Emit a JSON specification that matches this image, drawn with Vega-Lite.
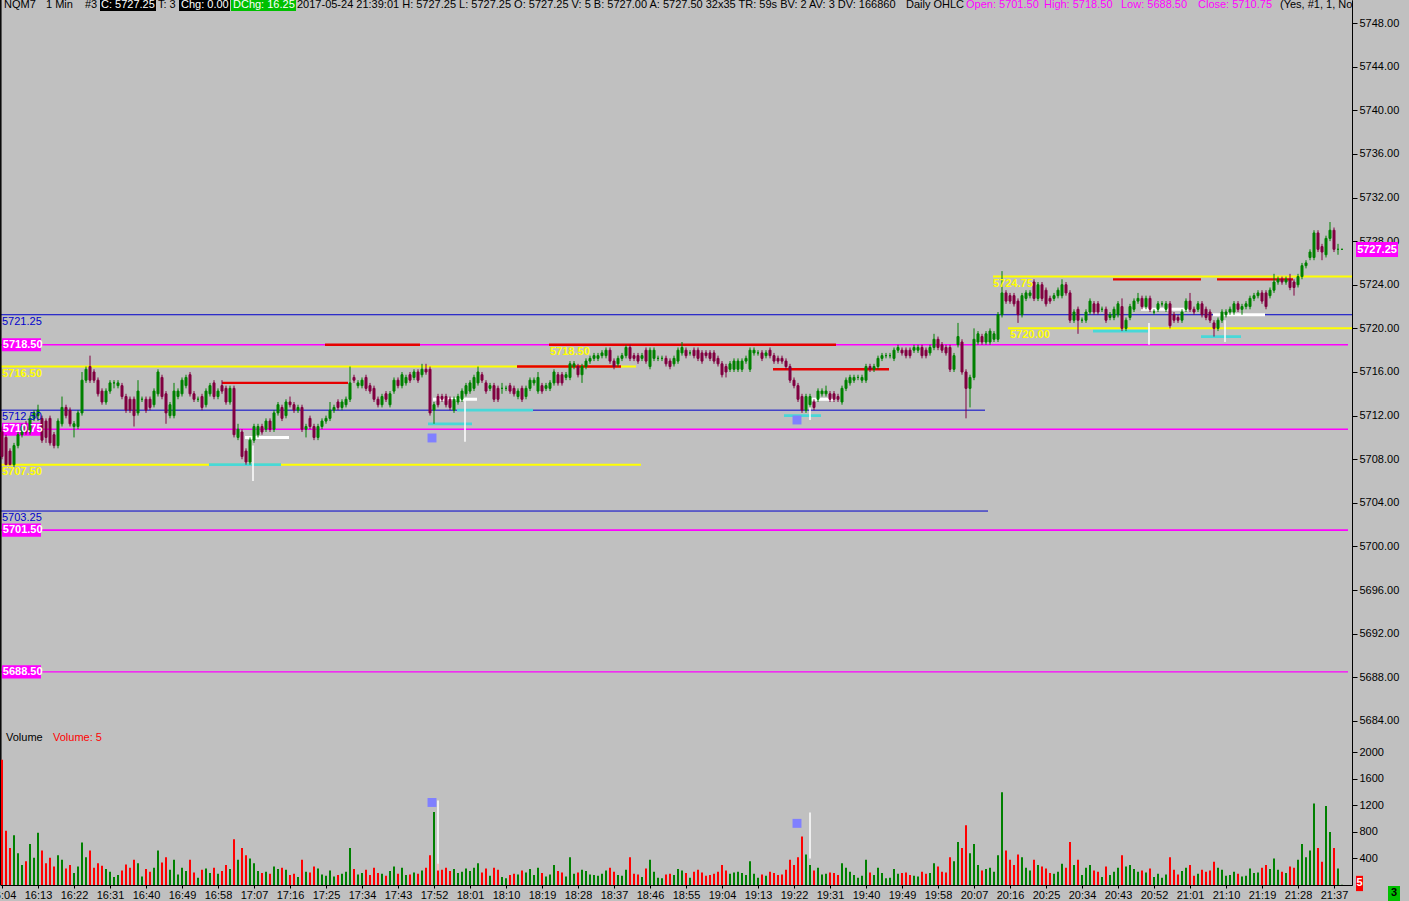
{
"$schema": "https://vega.github.io/schema/vega-lite/v6.json",
"width": 1352, "height": 885,
"autosize": {"type": "none"},
"padding": {"left": 0, "top": 0, "right": 57, "bottom": 16},
"background": "#c0c0c0",
"config": {"view": {"stroke": null}, "scale": {"continuousPadding": 0}, "text": {"font": "Liberation Sans", "fontSize": 11}, "axis": {"labelFont": "Liberation Sans", "labelFontSize": 11, "labelColor": "#000000", "domainColor": "#000000", "tickColor": "#000000", "grid": false}, "axisX": {"labelOverlap": false, "labelFlush": false, "labelBound": false, "tickCount": 60}, "axisY": {"labelOverlap": false, "tickCount": 60}},
"datasets": {
"bars": [
{"m":4,"o":5710.5,"h":5711,"l":5708,"c":5708.25,"v":1890},
{"m":5,"o":5710,"h":5710.25,"l":5707.5,"c":5707.5,"v":820},
{"m":6,"o":5708.75,"h":5709,"l":5707.5,"c":5707.5,"v":560},
{"m":7,"o":5707.5,"h":5709.5,"l":5707.25,"c":5709.25,"v":750},
{"m":8,"o":5709.25,"h":5710.5,"l":5709,"c":5710.25,"v":480},
{"m":9,"o":5710.25,"h":5711.25,"l":5710,"c":5711,"v":300},
{"m":10,"o":5711,"h":5711.5,"l":5710.25,"c":5710.5,"v":360},
{"m":11,"o":5710.5,"h":5712,"l":5710.25,"c":5711.75,"v":620},
{"m":12,"o":5711.75,"h":5712.5,"l":5711.5,"c":5712.25,"v":410},
{"m":13,"o":5712,"h":5713,"l":5711.5,"c":5712.5,"v":790},
{"m":14,"o":5711.75,"h":5712,"l":5709.5,"c":5709.75,"v":520},
{"m":15,"o":5711.5,"h":5711.75,"l":5709.5,"c":5710,"v":330},
{"m":16,"o":5711.75,"h":5712,"l":5709.25,"c":5709.5,"v":410},
{"m":17,"o":5710.25,"h":5710.5,"l":5709,"c":5709.25,"v":280},
{"m":18,"o":5709.25,"h":5711.75,"l":5709,"c":5711.5,"v":450},
{"m":19,"o":5711.25,"h":5713.75,"l":5711,"c":5712.75,"v":380},
{"m":20,"o":5712.75,"h":5713,"l":5711.75,"c":5712,"v":250},
{"m":21,"o":5712.5,"h":5712.75,"l":5711,"c":5711.25,"v":300},
{"m":22,"o":5711,"h":5711.5,"l":5710,"c":5711.25,"v":180},
{"m":23,"o":5711,"h":5712.5,"l":5710.75,"c":5712.25,"v":280},
{"m":24,"o":5712.25,"h":5716,"l":5712,"c":5715.25,"v":640},
{"m":25,"o":5715.25,"h":5716.5,"l":5715,"c":5716.25,"v":420},
{"m":26,"o":5716.5,"h":5717.5,"l":5715,"c":5715.25,"v":520},
{"m":27,"o":5716,"h":5716.25,"l":5715,"c":5715.25,"v":260},
{"m":28,"o":5715.25,"h":5715.5,"l":5713.75,"c":5714,"v":330},
{"m":29,"o":5714.25,"h":5714.5,"l":5713,"c":5713.25,"v":290},
{"m":30,"o":5713.25,"h":5714.5,"l":5713,"c":5714.25,"v":240},
{"m":31,"o":5714.25,"h":5715.25,"l":5714,"c":5715,"v":200},
{"m":32,"o":5715,"h":5715.25,"l":5714.5,"c":5715,"v":120},
{"m":33,"o":5714.75,"h":5715.25,"l":5714.5,"c":5715,"v":150},
{"m":34,"o":5714.75,"h":5715,"l":5713.5,"c":5713.75,"v":220},
{"m":35,"o":5713.75,"h":5714,"l":5712.25,"c":5712.5,"v":310},
{"m":36,"o":5713.5,"h":5713.75,"l":5712.25,"c":5712.5,"v":260},
{"m":37,"o":5713.5,"h":5713.75,"l":5711,"c":5712,"v":380},
{"m":38,"o":5712.25,"h":5715.25,"l":5712,"c":5714.25,"v":330},
{"m":39,"o":5713.5,"h":5713.75,"l":5713.25,"c":5713.5,"v":130},
{"m":40,"o":5713.5,"h":5713.75,"l":5712.25,"c":5712.5,"v":240},
{"m":41,"o":5713.5,"h":5713.75,"l":5712.5,"c":5712.75,"v":200},
{"m":42,"o":5713,"h":5714.5,"l":5712.75,"c":5714.25,"v":260},
{"m":43,"o":5714,"h":5716.25,"l":5713.75,"c":5716,"v":520},
{"m":44,"o":5715.5,"h":5715.75,"l":5713.5,"c":5713.75,"v":340},
{"m":45,"o":5714,"h":5714.25,"l":5711.25,"c":5712.25,"v":420},
{"m":46,"o":5712,"h":5713.25,"l":5711.75,"c":5713,"v":230},
{"m":47,"o":5712,"h":5715,"l":5711.75,"c":5714.25,"v":380},
{"m":48,"o":5713.75,"h":5714.5,"l":5713.5,"c":5714.25,"v":160},
{"m":49,"o":5714,"h":5715.5,"l":5713.75,"c":5715.25,"v":260},
{"m":50,"o":5714.75,"h":5715.75,"l":5714.5,"c":5715.5,"v":210},
{"m":51,"o":5715.75,"h":5716,"l":5713.75,"c":5714,"v":380},
{"m":52,"o":5714,"h":5714.25,"l":5713.25,"c":5713.5,"v":190},
{"m":53,"o":5713.5,"h":5713.75,"l":5713.25,"c":5713.5,"v":110},
{"m":54,"o":5713.75,"h":5714,"l":5712.5,"c":5712.75,"v":230},
{"m":55,"o":5713,"h":5714.5,"l":5712.75,"c":5714.25,"v":250},
{"m":56,"o":5714,"h":5715,"l":5713.75,"c":5714.75,"v":180},
{"m":57,"o":5715,"h":5715.25,"l":5713.5,"c":5713.75,"v":260},
{"m":58,"o":5713.75,"h":5714.5,"l":5713.5,"c":5714.25,"v":170},
{"m":59,"o":5714.75,"h":5715.25,"l":5714,"c":5714.25,"v":210},
{"m":60,"o":5714.5,"h":5714.75,"l":5713,"c":5713.25,"v":300},
{"m":61,"o":5713.25,"h":5714.75,"l":5713,"c":5714.5,"v":240},
{"m":62,"o":5714.5,"h":5714.75,"l":5710,"c":5710.25,"v":690},
{"m":63,"o":5710,"h":5711.25,"l":5709.75,"c":5710.75,"v":380},
{"m":64,"o":5710.5,"h":5710.75,"l":5708,"c":5708.25,"v":560},
{"m":65,"o":5708.75,"h":5709,"l":5707.5,"c":5707.75,"v":450},
{"m":66,"o":5707.75,"h":5710,"l":5707.5,"c":5709.75,"v":400},
{"m":67,"o":5709.75,"h":5711.25,"l":5709.5,"c":5711,"v":330},
{"m":68,"o":5710.25,"h":5711.25,"l":5710,"c":5711,"v":210},
{"m":69,"o":5711,"h":5711.25,"l":5710.25,"c":5710.5,"v":180},
{"m":70,"o":5710.75,"h":5711.75,"l":5710.5,"c":5711.5,"v":200},
{"m":71,"o":5711.5,"h":5711.75,"l":5710.5,"c":5710.75,"v":170},
{"m":72,"o":5710.75,"h":5712.5,"l":5710.5,"c":5712.25,"v":280},
{"m":73,"o":5712.25,"h":5713.25,"l":5712,"c":5713,"v":240},
{"m":74,"o":5712.75,"h":5713,"l":5711.5,"c":5711.75,"v":260},
{"m":75,"o":5712,"h":5713.5,"l":5711.75,"c":5713.25,"v":230},
{"m":76,"o":5713.25,"h":5713.75,"l":5712.75,"c":5713,"v":150},
{"m":77,"o":5713,"h":5713.25,"l":5712.25,"c":5712.5,"v":170},
{"m":78,"o":5712.5,"h":5713,"l":5712.25,"c":5712.75,"v":120},
{"m":79,"o":5712.75,"h":5713,"l":5710.5,"c":5710.75,"v":380},
{"m":80,"o":5710.75,"h":5711.25,"l":5710,"c":5711,"v":200},
{"m":81,"o":5711.75,"h":5712,"l":5710.75,"c":5711,"v":190},
{"m":82,"o":5711,"h":5711.25,"l":5709.75,"c":5710,"v":280},
{"m":83,"o":5710,"h":5711.25,"l":5709.75,"c":5711,"v":250},
{"m":84,"o":5711,"h":5711.75,"l":5710.75,"c":5711.5,"v":160},
{"m":85,"o":5711.5,"h":5712,"l":5711.25,"c":5711.75,"v":140},
{"m":86,"o":5711.75,"h":5713.25,"l":5711.5,"c":5712.5,"v":220},
{"m":87,"o":5712.5,"h":5713,"l":5712.25,"c":5712.75,"v":130},
{"m":88,"o":5713.25,"h":5713.5,"l":5712.5,"c":5712.75,"v":150},
{"m":89,"o":5712.75,"h":5713.5,"l":5712.5,"c":5713.25,"v":170},
{"m":90,"o":5713,"h":5713.75,"l":5712.75,"c":5713.5,"v":200},
{"m":91,"o":5713.5,"h":5716.5,"l":5713.25,"c":5715,"v":560},
{"m":92,"o":5715.5,"h":5715.75,"l":5715,"c":5715.25,"v":240},
{"m":93,"o":5714.75,"h":5715.25,"l":5714.5,"c":5715,"v":160},
{"m":94,"o":5714.75,"h":5715.5,"l":5714.5,"c":5715.25,"v":180},
{"m":95,"o":5715.5,"h":5715.75,"l":5714.25,"c":5714.5,"v":230},
{"m":96,"o":5714.75,"h":5715,"l":5714,"c":5714.25,"v":150},
{"m":97,"o":5714.5,"h":5714.75,"l":5713.25,"c":5713.5,"v":260},
{"m":98,"o":5713.5,"h":5713.75,"l":5712.75,"c":5713,"v":180},
{"m":99,"o":5713,"h":5714,"l":5712.75,"c":5713.75,"v":170},
{"m":100,"o":5714,"h":5714.25,"l":5713.25,"c":5713.5,"v":140},
{"m":101,"o":5713,"h":5714.25,"l":5712.75,"c":5714,"v":210},
{"m":102,"o":5714.25,"h":5715.5,"l":5714,"c":5715.25,"v":280},
{"m":103,"o":5715.25,"h":5715.5,"l":5714.5,"c":5714.75,"v":170},
{"m":104,"o":5714.75,"h":5716,"l":5714.5,"c":5715.75,"v":260},
{"m":105,"o":5715,"h":5715.75,"l":5714.75,"c":5715.5,"v":150},
{"m":106,"o":5715.75,"h":5716,"l":5715,"c":5715.25,"v":160},
{"m":107,"o":5715.5,"h":5716.25,"l":5715.25,"c":5716,"v":190},
{"m":108,"o":5716,"h":5716.25,"l":5715,"c":5715.25,"v":170},
{"m":109,"o":5715.75,"h":5716.75,"l":5715.5,"c":5716.25,"v":220},
{"m":110,"o":5716.25,"h":5716.75,"l":5715.75,"c":5716,"v":260},
{"m":111,"o":5716.25,"h":5716.5,"l":5712,"c":5712.25,"v":450},
{"m":112,"o":5712.5,"h":5713.25,"l":5711.25,"c":5713,"v":1100},
{"m":113,"o":5713.75,"h":5714,"l":5712.75,"c":5713,"v":320},
{"m":114,"o":5713.75,"h":5714,"l":5713.25,"c":5713.5,"v":230},
{"m":115,"o":5713.75,"h":5714,"l":5712.75,"c":5713,"v":260},
{"m":116,"o":5713.5,"h":5713.75,"l":5712.5,"c":5712.75,"v":210},
{"m":117,"o":5712.5,"h":5713.75,"l":5712.25,"c":5713.5,"v":240},
{"m":118,"o":5713.25,"h":5714,"l":5713,"c":5713.75,"v":180},
{"m":119,"o":5713.5,"h":5714.5,"l":5713.25,"c":5714.25,"v":200},
{"m":120,"o":5714,"h":5715,"l":5713.75,"c":5714.75,"v":250},
{"m":121,"o":5714.25,"h":5715.25,"l":5714,"c":5715,"v":210},
{"m":122,"o":5714.5,"h":5715.75,"l":5714.25,"c":5715.5,"v":260},
{"m":123,"o":5715,"h":5716.5,"l":5714.75,"c":5716,"v":330},
{"m":124,"o":5715.75,"h":5716,"l":5715,"c":5715.25,"v":190},
{"m":125,"o":5715,"h":5715.25,"l":5714,"c":5714.25,"v":250},
{"m":126,"o":5714.5,"h":5715,"l":5714.25,"c":5714.75,"v":140},
{"m":127,"o":5714.75,"h":5715,"l":5713.25,"c":5713.5,"v":260},
{"m":128,"o":5714.5,"h":5714.75,"l":5713.25,"c":5713.5,"v":230},
{"m":129,"o":5714.5,"h":5715,"l":5714,"c":5714.5,"v":120},
{"m":130,"o":5714.5,"h":5714.75,"l":5714.25,"c":5714.5,"v":100},
{"m":131,"o":5714.75,"h":5715,"l":5714,"c":5714.25,"v":150},
{"m":132,"o":5714.5,"h":5714.75,"l":5713.75,"c":5714,"v":170},
{"m":133,"o":5713.75,"h":5714.5,"l":5713.5,"c":5714.25,"v":160},
{"m":134,"o":5714.5,"h":5714.75,"l":5713.25,"c":5713.5,"v":220},
{"m":135,"o":5713.75,"h":5714.75,"l":5713.5,"c":5714.5,"v":190},
{"m":136,"o":5714.5,"h":5715.5,"l":5714.25,"c":5715.25,"v":240},
{"m":137,"o":5715,"h":5715.5,"l":5714.75,"c":5715.25,"v":150},
{"m":138,"o":5714.25,"h":5716,"l":5714,"c":5715.5,"v":260},
{"m":139,"o":5714.75,"h":5715,"l":5714,"c":5714.25,"v":180},
{"m":140,"o":5714.5,"h":5715,"l":5714.25,"c":5714.75,"v":130},
{"m":141,"o":5714.5,"h":5715.25,"l":5714.25,"c":5715,"v":160},
{"m":142,"o":5715,"h":5716.25,"l":5714.75,"c":5716,"v":300},
{"m":143,"o":5715.75,"h":5716,"l":5714.75,"c":5715,"v":210},
{"m":144,"o":5715.75,"h":5716,"l":5714.75,"c":5715,"v":190},
{"m":145,"o":5715.5,"h":5716,"l":5715.25,"c":5715.75,"v":130},
{"m":146,"o":5715.5,"h":5717,"l":5715.25,"c":5716.75,"v":420},
{"m":147,"o":5716.5,"h":5717,"l":5716.25,"c":5716.75,"v":170},
{"m":148,"o":5716.5,"h":5716.75,"l":5715.5,"c":5715.75,"v":190},
{"m":149,"o":5715.75,"h":5716.75,"l":5715,"c":5716.5,"v":230},
{"m":150,"o":5716.5,"h":5717.25,"l":5716.25,"c":5717,"v":210},
{"m":151,"o":5717,"h":5717.5,"l":5716.75,"c":5717.25,"v":160},
{"m":152,"o":5717.25,"h":5717.75,"l":5717,"c":5717.5,"v":150},
{"m":153,"o":5717.25,"h":5717.75,"l":5717,"c":5717.5,"v":140},
{"m":154,"o":5717.5,"h":5718,"l":5717.25,"c":5717.75,"v":170},
{"m":155,"o":5717.5,"h":5718.25,"l":5717.25,"c":5718,"v":220},
{"m":156,"o":5718,"h":5718.25,"l":5716.75,"c":5717,"v":260},
{"m":157,"o":5717,"h":5717.25,"l":5716.25,"c":5716.5,"v":200},
{"m":158,"o":5716.75,"h":5717.5,"l":5716.5,"c":5717.25,"v":150},
{"m":159,"o":5717.25,"h":5717.75,"l":5717,"c":5717.5,"v":140},
{"m":160,"o":5717.5,"h":5718.5,"l":5717.25,"c":5718.25,"v":230},
{"m":161,"o":5718.25,"h":5718.5,"l":5717,"c":5717.25,"v":420},
{"m":162,"o":5717.5,"h":5717.75,"l":5717,"c":5717.25,"v":170},
{"m":163,"o":5717.5,"h":5717.75,"l":5716.75,"c":5717,"v":160},
{"m":164,"o":5717.25,"h":5717.75,"l":5717,"c":5717.5,"v":120},
{"m":165,"o":5718,"h":5718.25,"l":5716.75,"c":5717,"v":250},
{"m":166,"o":5716.5,"h":5718.25,"l":5716.25,"c":5718,"v":380},
{"m":167,"o":5717.25,"h":5718.25,"l":5717,"c":5718,"v":200},
{"m":168,"o":5717.25,"h":5717.5,"l":5717,"c":5717.25,"v":110},
{"m":169,"o":5717.25,"h":5717.5,"l":5717,"c":5717.25,"v":100},
{"m":170,"o":5717.25,"h":5717.5,"l":5716.5,"c":5716.75,"v":160},
{"m":171,"o":5717,"h":5717.25,"l":5716.25,"c":5716.5,"v":170},
{"m":172,"o":5716.75,"h":5717.5,"l":5716.5,"c":5717.25,"v":150},
{"m":173,"o":5717,"h":5718.25,"l":5716.75,"c":5718,"v":240},
{"m":174,"o":5717.75,"h":5718.75,"l":5717.5,"c":5718.25,"v":220},
{"m":175,"o":5718,"h":5718.25,"l":5717.25,"c":5717.5,"v":180},
{"m":176,"o":5717.75,"h":5718,"l":5717.5,"c":5717.75,"v":110},
{"m":177,"o":5718,"h":5718.25,"l":5717.25,"c":5717.5,"v":200},
{"m":178,"o":5718,"h":5718.25,"l":5717,"c":5717.25,"v":230},
{"m":179,"o":5717.75,"h":5718,"l":5716.75,"c":5717,"v":190},
{"m":180,"o":5717.75,"h":5718,"l":5717.25,"c":5717.5,"v":140},
{"m":181,"o":5717.75,"h":5718,"l":5717,"c":5717.25,"v":150},
{"m":182,"o":5717.75,"h":5718,"l":5716.75,"c":5717,"v":170},
{"m":183,"o":5717.25,"h":5717.5,"l":5716.5,"c":5716.75,"v":200},
{"m":184,"o":5716.75,"h":5717,"l":5715.5,"c":5715.75,"v":300},
{"m":185,"o":5716.5,"h":5716.75,"l":5715.5,"c":5716,"v":220},
{"m":186,"o":5716.25,"h":5717,"l":5716,"c":5716.75,"v":170},
{"m":187,"o":5716.25,"h":5717.25,"l":5716,"c":5717,"v":190},
{"m":188,"o":5716.25,"h":5717.25,"l":5716,"c":5717,"v":200},
{"m":189,"o":5716.25,"h":5717.25,"l":5716,"c":5717,"v":180},
{"m":190,"o":5717,"h":5717.5,"l":5716.75,"c":5717.25,"v":150},
{"m":191,"o":5716.25,"h":5718.25,"l":5716,"c":5718,"v":360},
{"m":192,"o":5717.75,"h":5718.25,"l":5717.5,"c":5718,"v":170},
{"m":193,"o":5717.75,"h":5718,"l":5717.5,"c":5717.75,"v":110},
{"m":194,"o":5717.75,"h":5718,"l":5717,"c":5717.25,"v":160},
{"m":195,"o":5717.5,"h":5718,"l":5717.25,"c":5717.75,"v":140},
{"m":196,"o":5718,"h":5718.25,"l":5717.25,"c":5717.5,"v":200},
{"m":197,"o":5717.5,"h":5717.75,"l":5716.75,"c":5717,"v":180},
{"m":198,"o":5717.25,"h":5717.5,"l":5716.75,"c":5717,"v":150},
{"m":199,"o":5717.25,"h":5717.5,"l":5716.75,"c":5717,"v":160},
{"m":200,"o":5717,"h":5717.25,"l":5716.25,"c":5716.5,"v":230},
{"m":201,"o":5716.5,"h":5716.75,"l":5715,"c":5715.25,"v":380},
{"m":202,"o":5715.25,"h":5715.5,"l":5714.5,"c":5714.75,"v":300},
{"m":203,"o":5714.75,"h":5715,"l":5713.25,"c":5713.5,"v":420},
{"m":204,"o":5713.75,"h":5714,"l":5712.25,"c":5712.5,"v":730},
{"m":205,"o":5712.5,"h":5714,"l":5712.25,"c":5713.75,"v":460},
{"m":206,"o":5713,"h":5714,"l":5712.75,"c":5713.75,"v":300},
{"m":207,"o":5713.25,"h":5713.5,"l":5712.5,"c":5712.75,"v":220},
{"m":208,"o":5713.5,"h":5714.5,"l":5713.25,"c":5714.25,"v":260},
{"m":209,"o":5714,"h":5714.5,"l":5713.75,"c":5714.25,"v":160},
{"m":210,"o":5714,"h":5714.75,"l":5713.75,"c":5714.25,"v":170},
{"m":211,"o":5714,"h":5714.25,"l":5713.25,"c":5713.5,"v":190},
{"m":212,"o":5714,"h":5714.25,"l":5713.25,"c":5713.5,"v":180},
{"m":213,"o":5713.75,"h":5714,"l":5713.25,"c":5713.5,"v":150},
{"m":214,"o":5713.25,"h":5714.75,"l":5713,"c":5714.5,"v":330},
{"m":215,"o":5714.5,"h":5715.5,"l":5714.25,"c":5715.25,"v":260},
{"m":216,"o":5715,"h":5715.75,"l":5714.75,"c":5715.5,"v":200},
{"m":217,"o":5715.25,"h":5715.75,"l":5715,"c":5715.5,"v":150},
{"m":218,"o":5715.5,"h":5715.75,"l":5715.25,"c":5715.5,"v":110},
{"m":219,"o":5715.25,"h":5715.75,"l":5715,"c":5715.5,"v":140},
{"m":220,"o":5715.25,"h":5716.75,"l":5715,"c":5716.5,"v":380},
{"m":221,"o":5716.5,"h":5716.75,"l":5716,"c":5716.25,"v":190},
{"m":222,"o":5716.25,"h":5716.75,"l":5716,"c":5716.5,"v":150},
{"m":223,"o":5716.5,"h":5717.5,"l":5716.25,"c":5717.25,"v":260},
{"m":224,"o":5717.25,"h":5717.75,"l":5717,"c":5717.5,"v":180},
{"m":225,"o":5717.5,"h":5717.75,"l":5717.25,"c":5717.5,"v":100},
{"m":226,"o":5717.5,"h":5717.75,"l":5717.25,"c":5717.5,"v":110},
{"m":227,"o":5717.25,"h":5718.25,"l":5717,"c":5718,"v":240},
{"m":228,"o":5718,"h":5718.5,"l":5717.75,"c":5718.25,"v":170},
{"m":229,"o":5718,"h":5718.25,"l":5717.5,"c":5717.75,"v":180},
{"m":230,"o":5718,"h":5718.25,"l":5717.25,"c":5717.5,"v":190},
{"m":231,"o":5718,"h":5718.25,"l":5717.25,"c":5717.5,"v":150},
{"m":232,"o":5718,"h":5718.5,"l":5717.75,"c":5718.25,"v":140},
{"m":233,"o":5718,"h":5718.5,"l":5717.75,"c":5718.25,"v":130},
{"m":234,"o":5718.25,"h":5718.5,"l":5717.25,"c":5717.5,"v":200},
{"m":235,"o":5718,"h":5718.25,"l":5717.25,"c":5717.5,"v":170},
{"m":236,"o":5717.75,"h":5718.5,"l":5717.5,"c":5718.25,"v":180},
{"m":237,"o":5718.25,"h":5719.5,"l":5718,"c":5719,"v":330},
{"m":238,"o":5719,"h":5719.25,"l":5718,"c":5718.25,"v":280},
{"m":239,"o":5718.5,"h":5718.75,"l":5717.75,"c":5718,"v":200},
{"m":240,"o":5718.25,"h":5718.5,"l":5717.5,"c":5717.75,"v":190},
{"m":241,"o":5718.25,"h":5718.5,"l":5716,"c":5716.25,"v":420},
{"m":242,"o":5716.25,"h":5717.75,"l":5716,"c":5717.5,"v":360},
{"m":243,"o":5718.5,"h":5720.5,"l":5718.25,"c":5719.25,"v":650},
{"m":244,"o":5718.75,"h":5719,"l":5715.75,"c":5716,"v":560},
{"m":245,"o":5716,"h":5716.25,"l":5711.75,"c":5714.5,"v":900},
{"m":246,"o":5714.5,"h":5715.75,"l":5712.75,"c":5715.5,"v":480},
{"m":247,"o":5715.5,"h":5720,"l":5715.25,"c":5719,"v":620},
{"m":248,"o":5718.75,"h":5719.75,"l":5718.5,"c":5719.5,"v":300},
{"m":249,"o":5719.25,"h":5719.5,"l":5718.5,"c":5718.75,"v":220},
{"m":250,"o":5718.75,"h":5719.75,"l":5718.5,"c":5719.5,"v":240},
{"m":251,"o":5718.75,"h":5720,"l":5718.5,"c":5719.75,"v":260},
{"m":252,"o":5719,"h":5719.75,"l":5718.75,"c":5719.5,"v":200},
{"m":253,"o":5719,"h":5721.5,"l":5718.75,"c":5721.25,"v":450},
{"m":254,"o":5721.25,"h":5725.25,"l":5721,"c":5723.25,"v":1400},
{"m":255,"o":5723.25,"h":5723.5,"l":5722.25,"c":5722.5,"v":520},
{"m":256,"o":5723,"h":5723.25,"l":5722.25,"c":5722.5,"v":380},
{"m":257,"o":5723,"h":5723.25,"l":5722,"c":5722.25,"v":300},
{"m":258,"o":5722.5,"h":5722.75,"l":5720.5,"c":5721.25,"v":460},
{"m":259,"o":5721.25,"h":5723.25,"l":5721,"c":5723,"v":420},
{"m":260,"o":5722.75,"h":5723.5,"l":5722.5,"c":5723.25,"v":260},
{"m":261,"o":5723,"h":5723.5,"l":5722.75,"c":5723.25,"v":220},
{"m":262,"o":5724.25,"h":5724.5,"l":5722.5,"c":5722.75,"v":380},
{"m":263,"o":5722.75,"h":5724.25,"l":5722.5,"c":5724,"v":300},
{"m":264,"o":5724,"h":5724.25,"l":5722.5,"c":5722.75,"v":280},
{"m":265,"o":5723.5,"h":5723.75,"l":5722,"c":5722.25,"v":250},
{"m":266,"o":5722.75,"h":5723,"l":5722.25,"c":5722.5,"v":180},
{"m":267,"o":5722.75,"h":5723.25,"l":5722.5,"c":5723,"v":170},
{"m":268,"o":5723,"h":5723.75,"l":5722.75,"c":5723.5,"v":200},
{"m":269,"o":5723,"h":5724.5,"l":5722.75,"c":5724,"v":320},
{"m":270,"o":5724,"h":5724.25,"l":5723,"c":5723.25,"v":260},
{"m":271,"o":5723.25,"h":5723.5,"l":5720.5,"c":5720.75,"v":650},
{"m":272,"o":5720.75,"h":5721.75,"l":5720.5,"c":5721.5,"v":300},
{"m":273,"o":5721.75,"h":5722,"l":5719.5,"c":5720.75,"v":380},
{"m":274,"o":5720.75,"h":5721,"l":5720.5,"c":5720.75,"v":150},
{"m":275,"o":5720.75,"h":5721.75,"l":5720.5,"c":5721.5,"v":260},
{"m":276,"o":5721.5,"h":5722.75,"l":5721.25,"c":5722.5,"v":300},
{"m":277,"o":5722.25,"h":5722.5,"l":5721.25,"c":5721.5,"v":220},
{"m":278,"o":5722.25,"h":5722.5,"l":5721.25,"c":5721.5,"v":200},
{"m":279,"o":5721.75,"h":5722,"l":5721.5,"c":5721.75,"v":120},
{"m":280,"o":5721.75,"h":5722,"l":5720.5,"c":5720.75,"v":280},
{"m":281,"o":5721,"h":5721.5,"l":5720.75,"c":5721.25,"v":150},
{"m":282,"o":5721,"h":5722,"l":5720.75,"c":5721.75,"v":200},
{"m":283,"o":5721.25,"h":5722.5,"l":5721,"c":5722.25,"v":260},
{"m":284,"o":5722,"h":5722.75,"l":5719.75,"c":5720,"v":450},
{"m":285,"o":5720,"h":5721,"l":5719.75,"c":5720.75,"v":280},
{"m":286,"o":5721,"h":5722.25,"l":5720.75,"c":5722,"v":300},
{"m":287,"o":5721.75,"h":5722.75,"l":5721.5,"c":5722.5,"v":240},
{"m":288,"o":5722.5,"h":5723.25,"l":5722.25,"c":5722.75,"v":200},
{"m":289,"o":5722.75,"h":5723,"l":5721.75,"c":5722,"v":220},
{"m":290,"o":5722,"h":5723,"l":5721.75,"c":5722.75,"v":190},
{"m":291,"o":5722.75,"h":5723,"l":5721.5,"c":5721.75,"v":250},
{"m":292,"o":5721.5,"h":5721.75,"l":5721.25,"c":5721.5,"v":120},
{"m":293,"o":5721.75,"h":5722.5,"l":5721.5,"c":5722.25,"v":170},
{"m":294,"o":5722.25,"h":5722.5,"l":5722,"c":5722.25,"v":110},
{"m":295,"o":5721.75,"h":5722.5,"l":5721.5,"c":5722.25,"v":160},
{"m":296,"o":5722.25,"h":5722.5,"l":5720,"c":5720.25,"v":420},
{"m":297,"o":5721.25,"h":5721.5,"l":5720.5,"c":5720.75,"v":230},
{"m":298,"o":5721,"h":5721.25,"l":5720.5,"c":5720.75,"v":160},
{"m":299,"o":5720.75,"h":5721.75,"l":5720.5,"c":5721.5,"v":210},
{"m":300,"o":5721.75,"h":5722.75,"l":5721.5,"c":5722.5,"v":260},
{"m":301,"o":5722.5,"h":5723.25,"l":5721.5,"c":5721.75,"v":300},
{"m":302,"o":5721.75,"h":5722,"l":5721.25,"c":5721.5,"v":140},
{"m":303,"o":5721.75,"h":5722.5,"l":5721.5,"c":5722.25,"v":170},
{"m":304,"o":5722.25,"h":5722.5,"l":5721,"c":5721.25,"v":230},
{"m":305,"o":5721.75,"h":5722,"l":5720.75,"c":5721,"v":200},
{"m":306,"o":5721.5,"h":5721.75,"l":5720.5,"c":5720.75,"v":220},
{"m":307,"o":5720.5,"h":5720.75,"l":5719.25,"c":5720,"v":350},
{"m":308,"o":5720,"h":5721,"l":5719.75,"c":5720.75,"v":260},
{"m":309,"o":5720.75,"h":5721.75,"l":5720.5,"c":5721.5,"v":230},
{"m":310,"o":5721.25,"h":5721.75,"l":5721,"c":5721.5,"v":140},
{"m":311,"o":5721.5,"h":5722,"l":5721.25,"c":5721.75,"v":150},
{"m":312,"o":5721.5,"h":5722.5,"l":5721.25,"c":5722.25,"v":200},
{"m":313,"o":5722.25,"h":5722.5,"l":5721.5,"c":5721.75,"v":170},
{"m":314,"o":5721.75,"h":5722.25,"l":5721.25,"c":5722,"v":130},
{"m":315,"o":5722,"h":5722.5,"l":5721.75,"c":5722.25,"v":140},
{"m":316,"o":5722,"h":5723,"l":5721.75,"c":5722.75,"v":250},
{"m":317,"o":5722.75,"h":5723.25,"l":5722.5,"c":5723,"v":180},
{"m":318,"o":5723,"h":5723.5,"l":5722.75,"c":5723.25,"v":190},
{"m":319,"o":5723.25,"h":5723.5,"l":5722.25,"c":5722.5,"v":260},
{"m":320,"o":5723.25,"h":5723.5,"l":5721.75,"c":5722,"v":300},
{"m":321,"o":5723,"h":5723.75,"l":5722.75,"c":5723.5,"v":240},
{"m":322,"o":5723.5,"h":5725,"l":5723.25,"c":5724.25,"v":400},
{"m":323,"o":5724.25,"h":5724.75,"l":5724,"c":5724.5,"v":230},
{"m":324,"o":5724.5,"h":5724.75,"l":5724,"c":5724.25,"v":200},
{"m":325,"o":5724.25,"h":5724.75,"l":5724,"c":5724.5,"v":180},
{"m":326,"o":5724.5,"h":5725,"l":5723.5,"c":5723.75,"v":280},
{"m":327,"o":5724.25,"h":5724.5,"l":5723,"c":5723.75,"v":260},
{"m":328,"o":5724,"h":5725,"l":5723.75,"c":5724.75,"v":380},
{"m":329,"o":5724.75,"h":5726,"l":5724.5,"c":5725.75,"v":620},
{"m":330,"o":5725.75,"h":5726.25,"l":5725.5,"c":5726,"v":420},
{"m":331,"o":5726.5,"h":5727.25,"l":5726.25,"c":5727,"v":520},
{"m":332,"o":5726.5,"h":5729,"l":5726.25,"c":5728.75,"v":1230},
{"m":333,"o":5728.75,"h":5729,"l":5727,"c":5727.25,"v":560},
{"m":334,"o":5727.5,"h":5727.75,"l":5726.25,"c":5727,"v":350},
{"m":335,"o":5726.75,"h":5728.5,"l":5726.5,"c":5728.25,"v":1190},
{"m":336,"o":5728.25,"h":5729.75,"l":5728,"c":5729,"v":800},
{"m":337,"o":5729,"h":5729.25,"l":5727,"c":5727.25,"v":560},
{"m":338,"o":5727.25,"h":5727.75,"l":5726.75,"c":5727.25,"v":250},
{"m":339,"o":5727.25,"h":5727.25,"l":5727.25,"c":5727.25,"v":5}
],
"lines": [
{"lvl":"pivot","p":5721.25,"a":3.5,"b":341.5},
{"lvl":"pivot","p":5712.5,"a":3.5,"b":249.75},
{"lvl":"pivot","p":5703.25,"a":3.5,"b":250.5},
{"lvl":"dayHL","p":5718.5,"a":3.5,"b":340.5},
{"lvl":"dayHL","p":5688.5,"a":3.5,"b":340.5},
{"lvl":"dayOC","p":5710.75,"a":3.5,"b":340.5},
{"lvl":"dayOC","p":5701.5,"a":3.5,"b":340.5},
{"lvl":"range","p":5716.5,"a":3.5,"b":162.5},
{"lvl":"range","p":5707.5,"a":3.5,"b":163.75},
{"lvl":"range","p":5724.75,"a":251.75,"b":341.5},
{"lvl":"range","p":5720,"a":255.5,"b":341.5},
{"lvl":"resist","p":5715,"a":59,"b":90.5},
{"lvl":"resist","p":5716.5,"a":132.75,"b":158.75},
{"lvl":"resist","p":5718.5,"a":84.75,"b":108.5},
{"lvl":"resist","p":5718.5,"a":140.75,"b":212.5},
{"lvl":"resist","p":5716.25,"a":196.75,"b":225.75},
{"lvl":"resist","p":5724.5,"a":281.75,"b":303.75},
{"lvl":"resist","p":5724.5,"a":307.75,"b":326.75},
{"lvl":"support","p":5707.5,"a":55.75,"b":73.75},
{"lvl":"support","p":5711.25,"a":110.5,"b":121.5},
{"lvl":"support","p":5712.5,"a":117.75,"b":136.75},
{"lvl":"support","p":5712,"a":199.5,"b":208.75},
{"lvl":"support","p":5719.75,"a":276.75,"b":290.5},
{"lvl":"support","p":5719.25,"a":303.75,"b":313.75},
{"lvl":"cursor","p":5710,"a":64.75,"b":75.75},
{"lvl":"cursor","p":5713.5,"a":111.75,"b":122.75},
{"lvl":"cursor","p":5713.5,"a":206,"b":212.25},
{"lvl":"cursor","p":5721.75,"a":288.75,"b":300.5},
{"lvl":"cursor","p":5721.25,"a":306.75,"b":319.75}
],
"vticks": [
{"lvl":"cursor","m":66.75,"p1":5706,"p2":5709.25},
{"lvl":"cursor","m":119.75,"p1":5709.6,"p2":5713.4},
{"lvl":"cursor","m":206,"p1":5711.6,"p2":5713},
{"lvl":"cursor","m":290.75,"p1":5718.5,"p2":5720.5},
{"lvl":"cursor","m":309.75,"p1":5718.75,"p2":5720.75},
{"lvl":"ink","m":3.7,"p1":5668.96,"p2":5750.11}
],
"boxes": [
{"lvl":"dayHL","a":4,"b":13.75,"p1":5717.9,"p2":5719.1},
{"lvl":"dayOC","a":4,"b":13.75,"p1":5710.15,"p2":5711.35},
{"lvl":"dayOC","a":4,"b":13.75,"p1":5700.9,"p2":5702.1},
{"lvl":"dayHL","a":4,"b":13.75,"p1":5687.9,"p2":5689.1},
{"lvl":"ink","a":28.5,"b":42.5,"p1":5749.1,"p2":5750.11},
{"lvl":"ink","a":48.25,"b":61,"p1":5749.1,"p2":5750.11},
{"lvl":"up","a":61.25,"b":77.5,"p1":5749.1,"p2":5750.11},
{"lvl":"dayHL","a":342.5,"b":353,"p1":5726.54,"p2":5727.92},
{"lvl":"alert","a":342.5,"b":344.25,"p1":5668.4,"p2":5669.8},
{"lvl":"up","a":350.5,"b":353.5,"p1":5667.49,"p2":5668.87}
],
"notes": [
{"lvl":"pivot","m":4,"p":5720.59,"txt":"5721.25"},
{"lvl":"pivot","m":4,"p":5711.87,"txt":"5712.50"},
{"lvl":"pivot","m":4,"p":5702.61,"txt":"5703.25"},
{"lvl":"ink","m":4.5,"p":5749.65,"txt":"NQM7"},
{"lvl":"ink","m":15,"p":5749.65,"txt":"1 Min"},
{"lvl":"ink","m":24.75,"p":5749.65,"txt":"#3"},
{"lvl":"inverse","m":28.75,"p":5749.65,"txt":"C: 5727.25"},
{"lvl":"ink","m":43,"p":5749.65,"txt":"T: 3"},
{"lvl":"inverse","m":48.75,"p":5749.65,"txt":"Chg: 0.00"},
{"lvl":"inverse","m":61.75,"p":5749.65,"txt":"DChg: 16.25"},
{"lvl":"ink","m":77.75,"p":5749.65,"txt":"2017-05-24 21:39:01 H: 5727.25 L: 5727.25 O: 5727.25 V: 5 B: 5727.00 A: 5727.50 32x35 TR: 59s BV: 2 AV: 3 DV: 166860"},
{"lvl":"ink","m":230,"p":5749.65,"txt":"Daily OHLC"},
{"lvl":"dayHL","m":245,"p":5749.65,"txt":"Open: 5701.50"},
{"lvl":"dayHL","m":264.5,"p":5749.65,"txt":"High: 5718.50"},
{"lvl":"dayHL","m":283.75,"p":5749.65,"txt":"Low: 5688.50"},
{"lvl":"dayHL","m":303,"p":5749.65,"txt":"Close: 5710.75"},
{"lvl":"ink","m":323.5,"p":5749.65,"txt":"(Yes, #1, 1, No"},
{"lvl":"ink","m":5,"p":5682.44,"txt":"Volume"},
{"lvl":"alert","m":16.75,"p":5682.44,"txt":"Volume: 5"}
],
"boldNotes": [
{"lvl":"range","m":4,"p":5715.81,"txt":"5716.50"},
{"lvl":"range","m":4,"p":5706.83,"txt":"5707.50"},
{"lvl":"inverse","m":4.2,"p":5718.5,"txt":"5718.50"},
{"lvl":"inverse","m":4.2,"p":5710.73,"txt":"5710.75"},
{"lvl":"inverse","m":4.2,"p":5701.5,"txt":"5701.50"},
{"lvl":"inverse","m":4.2,"p":5688.5,"txt":"5688.50"},
{"lvl":"range","m":251.75,"p":5724.07,"txt":"5724.75"},
{"lvl":"range","m":256,"p":5719.39,"txt":"5720.00"},
{"lvl":"range","m":141,"p":5717.83,"txt":"5718.50"}
],
"tags": [
{"lvl":"inverse","m":347.75,"p":5727.2,"txt":"5727.25"},
{"lvl":"inverse","m":343.4,"p":5669.1,"txt":"5"},
{"lvl":"ink","m":352,"p":5668.2,"txt":"3"}
],
"signals": [{"m":111.5,"p":5709.95},{"m":202.75,"p":5711.6}],
"vcursor": [{"m":113,"v1":220,"v2":1275},{"m":206,"v1":400,"v2":1094}],
"vsignals": [{"m":111.5,"v":1245},{"m":202.75,"v":930}]
},
"resolve": {"scale": {"y": "independent"}},
"layer": [
{"layer": [
{"data": {"name": "lines"}, "mark": {"type": "rule"},
 "encoding": {
  "x": {"field": "a", "type": "quantitative", "scale": {"domain": [3.5, 341.5], "nice": false, "zero": false, "padding": 0}},
  "x2": {"field": "b"},
  "y": {"field": "p", "type": "quantitative", "scale": {"domain": [5668.96, 5750.11], "nice": false, "zero": false, "padding": 0}},
  "color": {"field": "lvl", "type": "nominal", "legend": null, "scale": {"domain": ["pivot","dayHL","dayOC","range","resist","support","cursor","ink","inverse","up","alert"], "range": ["#0000cc","#ff00ff","#ff00ff","#ffff00","#e60000","#48d8d8","#ffffff","#000000","#ffffff","#00c000","#ff0000"]}},
  "size": {"field": "lvl", "type": "nominal", "legend": null, "scale": {"domain": ["pivot","dayHL","dayOC","range","resist","support","cursor"], "range": [1, 3, 1, 1, 2, 2, 1.5]}}
 }},
{"data": {"name": "vticks"}, "mark": {"type": "rule", "strokeWidth": 1.5},
 "encoding": {
  "x": {"field": "m", "type": "quantitative"},
  "y": {"field": "p1", "type": "quantitative", "scale": {"domain": [5668.96, 5750.11], "nice": false, "zero": false, "padding": 0}},
  "y2": {"field": "p2"},
  "color": {"field": "lvl", "type": "nominal", "legend": null}
 }},
{"data": {"name": "boxes"}, "mark": {"type": "rect"},
 "encoding": {
  "x": {"field": "a", "type": "quantitative"},
  "x2": {"field": "b"},
  "y": {"field": "p1", "type": "quantitative", "scale": {"domain": [5668.96, 5750.11], "nice": false, "zero": false, "padding": 0}},
  "y2": {"field": "p2"},
  "color": {"field": "lvl", "type": "nominal", "legend": null}
 }},
{"data": {"name": "bars"}, "mark": {"type": "rule", "strokeWidth": 1},
 "encoding": {
  "x": {"field": "m", "type": "quantitative"},
  "y": {"field": "l", "type": "quantitative", "scale": {"domain": [5668.96, 5750.11], "nice": false, "zero": false, "padding": 0}},
  "y2": {"field": "h"},
  "stroke": {"condition": {"test": "datum.c < datum.o", "value": "#800040"}, "value": "#008000"}
 }},
{"data": {"name": "bars"}, "mark": {"type": "bar", "size": 2, "strokeWidth": 1},
 "encoding": {
  "x": {"field": "m", "type": "quantitative", "scale": {"domain": [3.5, 341.5], "nice": false, "zero": false, "padding": 0}, "axis": {"orient": "bottom", "title": null, "values": [4,13,22,31,40,49,58,67,76,85,94,103,112,121,130,139,148,157,166,175,184,193,202,211,220,229,238,247,256,265,274,283,292,301,310,319,328,337], "tickCount": 60, "labelExpr": "floor(16 + datum.value / 60) + ':' + (datum.value % 60 < 10 ? '0' : '') + (datum.value % 60)", "tickSize": 3, "labelPadding": 1, "labelFlush": false, "labelOverlap": false, "labelBound": false}},
  "y": {"field": "o", "type": "quantitative", "scale": {"domain": [5668.96, 5750.11], "nice": false, "zero": false, "padding": 0}, "axis": {"orient": "right", "title": null, "values": [5684,5688,5692,5696,5700,5704,5708,5712,5716,5720,5724,5728,5732,5736,5740,5744,5748], "tickCount": 60, "format": ".2f", "tickSize": 5, "labelPadding": 2}},
  "y2": {"field": "c"},
  "fill": {"condition": {"test": "datum.c < datum.o", "value": "#800040"}, "value": "#008000"},
  "stroke": {"condition": {"test": "datum.c < datum.o", "value": "#800040"}, "value": "#008000"}
 }},
{"data": {"name": "signals"}, "mark": {"type": "square", "size": 80, "color": "#8080ff", "opacity": 1, "filled": true},
 "encoding": {
  "x": {"field": "m", "type": "quantitative"},
  "y": {"field": "p", "type": "quantitative", "scale": {"domain": [5668.96, 5750.11], "nice": false, "zero": false, "padding": 0}}
 }},
{"data": {"name": "notes"}, "mark": {"type": "text", "align": "left", "baseline": "middle"},
 "encoding": {
  "x": {"field": "m", "type": "quantitative"},
  "y": {"field": "p", "type": "quantitative", "scale": {"domain": [5668.96, 5750.11], "nice": false, "zero": false, "padding": 0}},
  "text": {"field": "txt"},
  "color": {"field": "lvl", "type": "nominal", "legend": null}
 }},
{"data": {"name": "boldNotes"}, "mark": {"type": "text", "align": "left", "baseline": "middle", "fontWeight": "bold"},
 "encoding": {
  "x": {"field": "m", "type": "quantitative"},
  "y": {"field": "p", "type": "quantitative", "scale": {"domain": [5668.96, 5750.11], "nice": false, "zero": false, "padding": 0}},
  "text": {"field": "txt"},
  "color": {"field": "lvl", "type": "nominal", "legend": null}
 }},
{"data": {"name": "tags"}, "mark": {"type": "text", "align": "center", "baseline": "middle", "fontWeight": "bold"},
 "encoding": {
  "x": {"field": "m", "type": "quantitative"},
  "y": {"field": "p", "type": "quantitative", "scale": {"domain": [5668.96, 5750.11], "nice": false, "zero": false, "padding": 0}},
  "text": {"field": "txt"},
  "color": {"field": "lvl", "type": "nominal", "legend": null}
 }}
]},
{"layer": [
{"data": {"name": "bars"}, "mark": {"type": "bar", "size": 2},
 "encoding": {
  "x": {"field": "m", "type": "quantitative", "axis": {"orient": "bottom", "title": null, "values": [4,13,22,31,40,49,58,67,76,85,94,103,112,121,130,139,148,157,166,175,184,193,202,211,220,229,238,247,256,265,274,283,292,301,310,319,328,337], "tickCount": 60, "labelExpr": "floor(16 + datum.value / 60) + ':' + (datum.value % 60 < 10 ? '0' : '') + (datum.value % 60)", "tickSize": 3, "labelPadding": 1, "labelFlush": false, "labelOverlap": false, "labelBound": false}},
  "y": {"field": "v", "type": "quantitative", "scale": {"domain": [0, 13351], "nice": false, "zero": false, "padding": 0}, "axis": {"orient": "right", "title": null, "values": [400, 800, 1200, 1600, 2000], "format": "d", "tickSize": 5, "labelPadding": 2}},
  "color": {"condition": {"test": "datum.c < datum.o", "value": "#ff0000"}, "value": "#008000"}
 }},
{"data": {"name": "vcursor"}, "mark": {"type": "rule", "strokeWidth": 1.5, "color": "#ffffff"},
 "encoding": {
  "x": {"field": "m", "type": "quantitative"},
  "y": {"field": "v1", "type": "quantitative", "scale": {"domain": [0, 13351], "nice": false, "zero": false, "padding": 0}},
  "y2": {"field": "v2"}
 }},
{"data": {"name": "vsignals"}, "mark": {"type": "square", "size": 80, "color": "#8080ff", "opacity": 1, "filled": true},
 "encoding": {
  "x": {"field": "m", "type": "quantitative"},
  "y": {"field": "v", "type": "quantitative", "scale": {"domain": [0, 13351], "nice": false, "zero": false, "padding": 0}}
 }}
]}
]
}
